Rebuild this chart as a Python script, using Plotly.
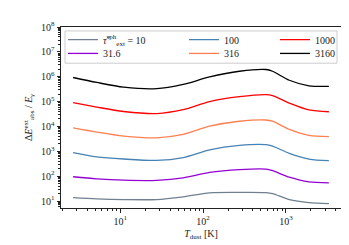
import plotly.graph_objects as go

# Data
T_dust = [2.7, 5.2, 11, 27.5, 57.5, 120, 275, 575, 690, 1100, 1900, 3300]
tau_labels = ["10", "31.6", "100", "316", "1000", "3160"]
E_10 = [13.8, 12.3, 11.5, 11.5, 14.8, 21.4, 22.4, 21.9, 20.0, 11.5, 8.7, 7.9]
E_31_6 = [95, 78, 69, 68, 85, 141, 182, 191, 166, 91, 59, 54]
E_100 = [890, 600, 490, 430, 560, 1150, 1740, 1860, 1620, 830, 490, 420]
E_316 = [8.7e3, 5.9e3, 4.1e3, 3.5e3, 4.8e3, 1.02e4, 1.62e4, 1.82e4, 1.62e4, 7.6e3, 4.4e3, 3.9e3]
E_1000 = [9.1e4, 6.0e4, 4.0e4, 3.3e4, 4.7e4, 1.0e5, 1.58e5, 1.9e5, 1.74e5, 8.7e4, 4.6e4, 3.9e4]
E_3160 = [9.3e5, 5.9e5, 3.8e5, 3.3e5, 4.9e5, 9.8e5, 1.66e6, 1.95e6, 1.66e6, 7.2e5, 4.3e5, 4.1e5]
y_tickvals = [1e1, 1e2, 1e3, 1e4, 1e5, 1e6, 1e7, 1e8]
y_ticktext = ["10<sup>%d</sup>" % i for i in range(1, 9)]
x_tickvals = [1e1, 1e2, 1e3]
x_ticktext = ["10<sup>1</sup>", "10<sup>2</sup>", "10<sup>3</sup>"]

series = [E_10, E_31_6, E_100, E_316, E_1000, E_3160]
colors = ["#708090", "#9400D3", "#4682B4", "#FF7F50", "#FF0000", "#000000"]
names = ["<i>τ̂</i><sup>sph</sup><sub>ext</sub> = 10"] + tau_labels[1:]

W, H = 349, 245
L, R, Tm, B = 53, 16, 15, 45
pw, ph = W - L - R, H - Tm - B

def px_x(x):
    return (x - L) / pw

def px_y(y):
    return (H - B - y) / ph

# legend placement (column-major like matplotlib ncol=3)
col_left = [55, 176, 267]
row_y = [28, 42]

fig = go.Figure()
legend_layouts = {}
for i, (vals, c, n) in enumerate(zip(series, colors, names)):
    lname = "legend" if i == 0 else "legend%d" % (i + 1)
    col, row = i // 2, i % 2
    fig.add_trace(go.Scatter(
        x=T_dust, y=vals, mode="lines", name=n,
        line=dict(color=c, width=1.3, shape="spline", smoothing=0.8),
        legend=lname, showlegend=True))
    legend_layouts[lname] = dict(
        x=px_x(col_left[col]), y=px_y(row_y[row]), xanchor="left", yanchor="middle",
        bgcolor="rgba(0,0,0,0)", borderwidth=0,
        font=dict(family="Liberation Serif", size=10, color="#222"))

minor_y = [m * 10 ** e for e in range(0, 8) for m in range(2, 10)]
minor_x = [m * 10 ** e for e in range(0, 4) for m in range(2, 10)]

fig.update_layout(
    width=W, height=H,
    margin=dict(l=L, r=R, t=Tm, b=B),
    paper_bgcolor="white", plot_bgcolor="white",
    font=dict(family="Liberation Serif", size=10, color="#222"),
    xaxis=dict(
        type="log", range=[0.285, 3.665],
        tickvals=x_tickvals, ticktext=x_ticktext,
        ticks="outside", ticklen=3.5, tickwidth=0.8, tickcolor="#222",
        minor=dict(tickvals=minor_x, ticks="outside", ticklen=2, tickwidth=0.6, tickcolor="#222"),
        showline=True, linecolor="#222", linewidth=1, mirror=True,
        showgrid=False, zeroline=False,
        tickfont=dict(size=10),
        title=dict(text="<i>T</i><sub>dust</sub> [K]", standoff=4, font=dict(size=10)),
    ),
    yaxis=dict(
        type="log", range=[0.72, 8.0],
        tickvals=y_tickvals, ticktext=y_ticktext,
        ticks="outside", ticklen=3.5, tickwidth=0.8, tickcolor="#222",
        minor=dict(tickvals=minor_y, ticks="outside", ticklen=2, tickwidth=0.6, tickcolor="#222"),
        showline=True, linecolor="#222", linewidth=1, mirror=True,
        showgrid=False, zeroline=False,
        tickfont=dict(size=10),
        title=dict(text="Δ<i>E</i><sup>ext</sup><sub>abs</sub> / <i>E</i><sub><i>γ</i></sub>", standoff=6, font=dict(size=10)),
    ),
    shapes=[dict(type="rect", xref="paper", yref="paper",
                 x0=px_x(57), x1=px_x(329), y0=px_y(52), y1=px_y(19),
                 line=dict(color="#cccccc", width=1), fillcolor="rgba(255,255,255,0.8)",
                 layer="below")],
    **legend_layouts,
)

fig.write_html("out.html")
